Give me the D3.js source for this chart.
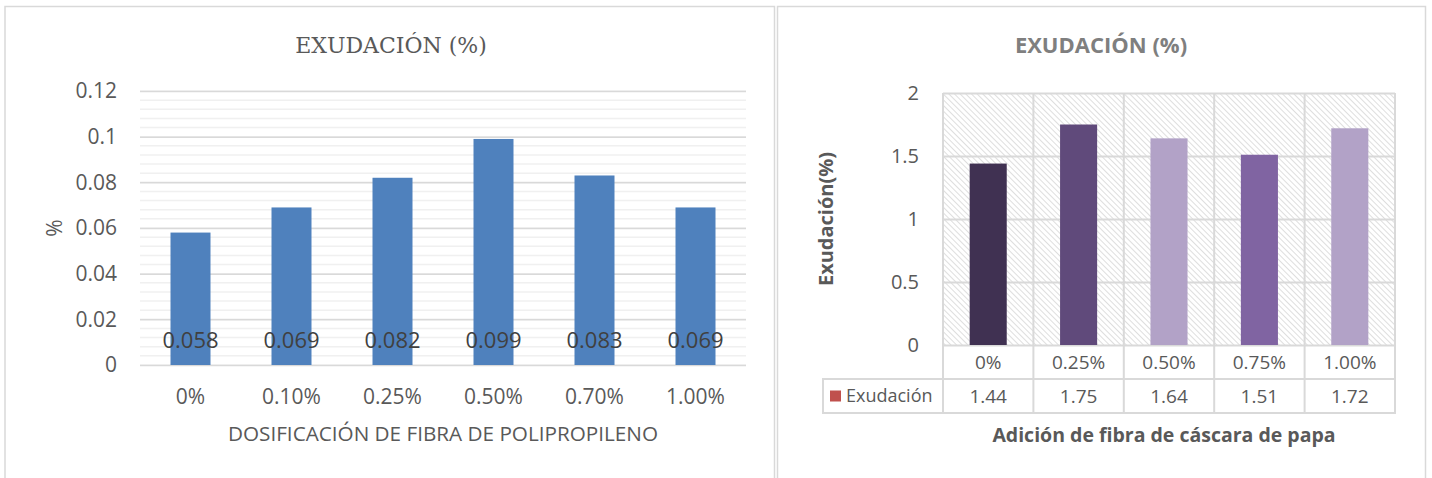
<!DOCTYPE html>
<html>
<head>
<meta charset="utf-8">
<script src="https://cdn.jsdelivr.net/npm/d3@7"></script>
<style>
  body { margin: 0; background: #fff; }
  svg { display: block; }
  text { font-family: 'Open Sans', sans-serif; fill: #595959; }
</style>
</head>
<body>
<div id="chart"></div>
<script>
// left chart
const dosis = ['0%', '0.10%', '0.25%', '0.50%', '0.70%', '1.00%']
const exudacionPP = [0.058, 0.069, 0.082, 0.099, 0.083, 0.069]
const leftTicks = [0, 0.02, 0.04, 0.06, 0.08, 0.1, 0.12]

// right chart
const adicion = ['0%', '0.25%', '0.50%', '0.75%', '1.00%']
const exudacionPapa = [1.44, 1.75, 1.64, 1.51, 1.72]
const rightTicks = [0, 0.5, 1, 1.5, 2]
const papaColors = ['#403152', '#604a7b', '#b2a2c7', '#8064a2', '#b2a2c7']

const W = 1432, H = 478

const svg = d3.select('#chart').append('svg')
    .attr('width', W)
    .attr('height', H)

const defs = svg.append('defs')
const hatch = defs.append('pattern')
    .attr('id', 'hatch')
    .attr('patternUnits', 'userSpaceOnUse')
    .attr('width', 4)
    .attr('height', 4)
    .attr('patternTransform', 'rotate(-45)')
hatch.append('rect').attr('width', 4).attr('height', 4).attr('fill', '#fff')
hatch.append('line')
    .attr('x1', 0).attr('y1', 0).attr('x2', 0).attr('y2', 4)
    .attr('stroke', '#d6d6d6').attr('stroke-width', 1.6)

// panel frames
svg.append('path')
    .attr('d', 'M5,478 V6.5 H774.5 V478')
    .attr('fill', 'none').attr('stroke', '#d9d9d9').attr('stroke-width', 1.5)
svg.append('path')
    .attr('d', 'M777.5,478 V6.5 H1425.5 V478')
    .attr('fill', 'none').attr('stroke', '#d9d9d9').attr('stroke-width', 1.5)

// ---------- left chart ----------
const L = { left: 140, right: 746, top: 91, bottom: 365 }

const yL = d3.scaleLinear().domain([0, 0.12]).range([L.bottom, L.top])
const xL = d3.scaleBand().domain(dosis).range([L.left, L.right])
    .paddingInner(0.604).paddingOuter(0.302)

const gL = svg.append('g')

gL.append('text')
    .attr('x', 391).attr('y', 45)
    .attr('dy', '0.35em')
    .attr('text-anchor', 'middle')
    .style('font-family', "'DejaVu Serif', serif")
    .style('font-size', '22px')
    .text('EXUDACIÓN (%)')

// minor grid
gL.append('g')
    .selectAll('line')
    .data(d3.range(0, 31).map(i => i * 0.004))
    .enter()
    .append('line')
    .attr('x1', L.left).attr('x2', L.right)
    .attr('y1', d => yL(d)).attr('y2', d => yL(d))
    .attr('stroke', '#f0f0f0').attr('stroke-width', 1.5)

// major grid + ticks
gL.append('g')
    .attr('transform', 'translate(' + L.left + ',0)')
    .call(d3.axisLeft(yL)
        .tickValues(leftTicks)
        .tickFormat(d => String(+d.toFixed(2)))
        .tickSize(-(L.right - L.left))
        .tickPadding(23))
    .call(g => g.select('.domain').remove())
    .call(g => g.selectAll('.tick line').attr('stroke', '#d9d9d9').attr('stroke-width', 1.5))
    .call(g => g.selectAll('.tick text')
        .style('font-size', '21px').style('font-family', "'Open Sans', sans-serif")
        .attr('fill', '#595959'))

gL.append('g')
    .selectAll('rect')
    .data(exudacionPP)
    .enter()
    .append('rect')
    .attr('x', (_, i) => xL(dosis[i]))
    .attr('width', xL.bandwidth())
    .attr('y', d => yL(d))
    .attr('height', d => yL(0) - yL(d))
    .attr('fill', '#4f81bd')

gL.append('g')
    .selectAll('text')
    .data(exudacionPP)
    .enter()
    .append('text')
    .attr('x', (_, i) => xL(dosis[i]) + xL.bandwidth() / 2)
    .attr('y', yL(0) - 25)
    .attr('dy', '0.35em')
    .attr('text-anchor', 'middle')
    .style('font-size', '22px')
    .style('fill', '#404040')
    .text(d => d)

gL.append('g')
    .attr('transform', 'translate(0,' + L.bottom + ')')
    .call(d3.axisBottom(xL).tickSize(0).tickPadding(0))
    .call(g => g.select('.domain').remove())
    .call(g => g.selectAll('.tick text')
        .attr('y', 32).attr('dy', '0.35em')
        .style('font-size', '21px').style('font-family', "'Open Sans', sans-serif")
        .attr('fill', '#595959'))

gL.append('text')
    .attr('x', 443).attr('y', 434)
    .attr('dy', '0.35em')
    .attr('text-anchor', 'middle')
    .style('font-size', '20.7px')
    .text('DOSIFICACIÓN DE FIBRA DE POLIPROPILENO')

gL.append('text')
    .attr('transform', 'translate(55,228) rotate(-90)')
    .attr('dy', '0.35em')
    .attr('text-anchor', 'middle')
    .style('font-size', '21px')
    .text('%')

// ---------- right chart ----------
const R = { left: 943, right: 1395, top: 93, bottom: 345 }
const rowH = 34

const yR = d3.scaleLinear().domain([0, 2]).range([R.bottom, R.top])
const xR = d3.scaleBand().domain(adicion).range([R.left, R.right])
    .paddingInner(0.59).paddingOuter(0.295)
const step = xR.step()

const gR = svg.append('g')

gR.append('text')
    .attr('x', 1101).attr('y', 45)
    .attr('dy', '0.35em')
    .attr('text-anchor', 'middle')
    .style('font-size', '22px')
    .style('font-weight', 'bold')
    .style('fill', '#7f7f7f')
    .text('EXUDACIÓN (%)')

gR.append('rect')
    .attr('x', R.left).attr('y', R.top)
    .attr('width', R.right - R.left).attr('height', R.bottom - R.top)
    .attr('fill', 'url(#hatch)')

gR.append('g')
    .attr('transform', 'translate(' + R.left + ',0)')
    .call(d3.axisLeft(yR)
        .tickValues(rightTicks)
        .tickFormat(d => String(d))
        .tickSize(-(R.right - R.left))
        .tickPadding(24))
    .call(g => g.select('.domain').remove())
    .call(g => g.selectAll('.tick line').attr('stroke', '#d9d9d9').attr('stroke-width', 2))
    .call(g => g.selectAll('.tick text')
        .style('font-size', '20px').style('font-family', "'Open Sans', sans-serif")
        .attr('fill', '#595959'))

// vertical grid through plot and table
gR.append('g')
    .selectAll('line')
    .data(d3.range(0, adicion.length + 1))
    .enter()
    .append('line')
    .attr('x1', i => R.left + i * step).attr('x2', i => R.left + i * step)
    .attr('y1', R.top).attr('y2', R.bottom + 2 * rowH)
    .attr('stroke', '#d9d9d9').attr('stroke-width', 2)

gR.append('g')
    .selectAll('rect')
    .data(exudacionPapa)
    .enter()
    .append('rect')
    .attr('x', (_, i) => xR(adicion[i]))
    .attr('width', xR.bandwidth())
    .attr('y', d => yR(d))
    .attr('height', d => yR(0) - yR(d))
    .attr('fill', (_, i) => papaColors[i])

// data table
const tbl = gR.append('g')
tbl.append('line')
    .attr('x1', R.left).attr('x2', R.right)
    .attr('y1', R.bottom + rowH).attr('y2', R.bottom + rowH)
    .attr('stroke', '#d9d9d9').attr('stroke-width', 2)
tbl.append('rect')
    .attr('x', 823).attr('y', R.bottom + rowH)
    .attr('width', R.right - 823).attr('height', rowH)
    .attr('fill', 'none').attr('stroke', '#d9d9d9').attr('stroke-width', 2)
tbl.append('line')
    .attr('x1', R.left).attr('x2', R.left)
    .attr('y1', R.bottom).attr('y2', R.bottom + 2 * rowH)
    .attr('stroke', '#d9d9d9').attr('stroke-width', 2)

gR.append('g')
    .attr('transform', 'translate(0,' + R.bottom + ')')
    .call(d3.axisBottom(xR).tickSize(0).tickPadding(0))
    .call(g => g.select('.domain').remove())
    .call(g => g.selectAll('.tick text')
        .attr('y', rowH / 2).attr('dy', '0.35em')
        .style('font-size', '19px').style('font-family', "'Open Sans', sans-serif")
        .attr('fill', '#595959'))

tbl.append('g')
    .selectAll('text')
    .data(exudacionPapa)
    .enter()
    .append('text')
    .attr('x', (_, i) => xR(adicion[i]) + xR.bandwidth() / 2)
    .attr('y', R.bottom + rowH * 1.5)
    .attr('dy', '0.35em')
    .attr('text-anchor', 'middle')
    .style('font-size', '19px')
    .text(d => d.toFixed(2))

tbl.append('rect')
    .attr('x', 830).attr('y', R.bottom + rowH * 1.5 - 5.5)
    .attr('width', 11).attr('height', 11)
    .attr('fill', '#c0504d')
tbl.append('text')
    .attr('x', 846).attr('y', R.bottom + rowH * 1.5)
    .attr('dy', '0.35em')
    .style('font-size', '18px')
    .text('Exudación')

gR.append('text')
    .attr('x', 1164).attr('y', 435)
    .attr('dy', '0.35em')
    .attr('text-anchor', 'middle')
    .style('font-size', '19.5px')
    .style('font-weight', 'bold')
    .text('Adición de fibra de cáscara de papa')

gR.append('text')
    .attr('transform', 'translate(826,219) rotate(-90)')
    .attr('dy', '0.35em')
    .attr('text-anchor', 'middle')
    .style('font-size', '20px')
    .style('font-weight', 'bold')
    .text('Exudación(%)')
</script>
</body>
</html>
